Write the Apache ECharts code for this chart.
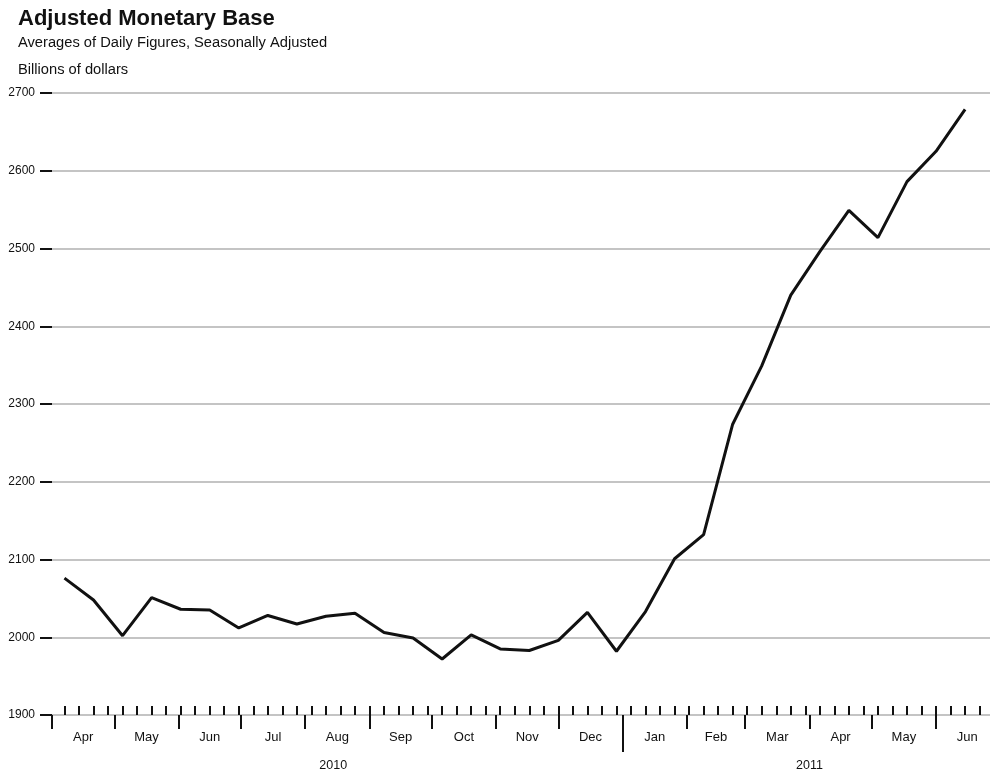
<!DOCTYPE html>
<html>
<head>
<meta charset="utf-8">
<script src="https://cdn.jsdelivr.net/npm/echarts@6/dist/echarts.min.js"></script>
<style>
html,body{margin:0;padding:0;background:#fff;}
#chart{width:990px;height:772px;}
</style>
</head>
<body>
<div id="chart"></div>
<script>
// ---- data ----
const dates = [
  '2010-04-07','2010-04-21','2010-05-05','2010-05-19','2010-06-02','2010-06-16','2010-06-30',
  '2010-07-14','2010-07-28','2010-08-11','2010-08-25','2010-09-08','2010-09-22','2010-10-06',
  '2010-10-20','2010-11-03','2010-11-17','2010-12-01','2010-12-15','2010-12-29','2011-01-12',
  '2011-01-26','2011-02-09','2011-02-23','2011-03-09','2011-03-23','2011-04-06','2011-04-20',
  '2011-05-04','2011-05-18','2011-06-01','2011-06-15'
];
const values = [
  2076, 2048, 2002, 2051, 2036, 2035, 2012,
  2028, 2017, 2027, 2031, 2006, 1999, 1972,
  2003, 1985, 1983, 1996, 2032, 1982, 2033,
  2101, 2132, 2274, 2349, 2440, 2496, 2549,
  2514, 2586, 2625, 2679
];
const monthStarts = [
  '2010-04-01','2010-05-01','2010-06-01','2010-07-01','2010-08-01','2010-09-01','2010-10-01',
  '2010-11-01','2010-12-01','2011-01-01','2011-02-01','2011-03-01','2011-04-01','2011-05-01',
  '2011-06-01','2011-07-01'
];
const monthLabels = ['Apr','May','Jun','Jul','Aug','Sep','Oct','Nov','Dec','Jan','Feb','Mar','Apr','May','Jun'];
const yearLabels = ['2010','2011'];
const yearStarts = ['2010-04-01','2011-01-01'];
const yMin = 1900, yMax = 2700, yStep = 100;

// ---- scale helpers ----
const origin = Date.UTC(2010, 3, 1);
function day(s) {
  const p = s.split('-').map(Number);
  return (Date.UTC(p[0], p[1] - 1, p[2]) - origin) / 86400000;
}
const xMax = 452;
const firstWed = day('2010-04-07');
const weekTicks = [];
for (let d = firstWed; d <= xMax; d += 7) weekTicks.push(d);
const monthTickVals = monthStarts.map(day).filter(d => d <= xMax);
const monthMid = monthLabels.map((m, i) => (day(monthStarts[i]) + day(monthStarts[i + 1])) / 2);
const monthLabelMap = {};
monthMid.forEach((v, i) => { monthLabelMap[v] = monthLabels[i]; });
const yearBoundary = [day('2011-01-01')];
const yearMid = [
  (day(yearStarts[0]) + day(yearStarts[1])) / 2 - 2,
  (day(yearStarts[1]) + xMax) / 2 + 1.5
];
const yearLabelMap = {};
yearMid.forEach((v, i) => { yearLabelMap[v] = yearLabels[i]; });

const FONT = "'Liberation Sans', Arial, Helvetica, sans-serif";
const gridCfg = { left: 52, right: 0, top: 93, bottom: 57, outerBoundsMode: 'none', containLabel: false };

const chart = echarts.init(document.getElementById('chart'));
chart.setOption({
  animation: false,
  backgroundColor: '#fff',
  title: [
    { text: 'Adjusted Monetary Base', left: 18, top: 8, padding: 0,
      textStyle: { fontFamily: FONT, fontSize: 22, fontWeight: 'bold', color: '#111' } },
    { text: 'Averages of Daily Figures, Seasonally Adjusted', left: 18, top: 35, padding: 0,
      textStyle: { fontFamily: FONT, fontSize: 14.7, fontWeight: 'normal', color: '#111' } },
    { text: 'Billions of dollars', left: 18, top: 62, padding: 0,
      textStyle: { fontFamily: FONT, fontSize: 14.7, fontWeight: 'normal', color: '#111' } }
  ],
  grid: gridCfg,
  xAxis: [
    { type: 'value', min: 0, max: xMax, position: 'bottom', offset: 0,
      axisLine: { show: true, onZero: false, lineStyle: { color: '#c4c4c4', width: 2 } },
      axisTick: { show: true, inside: true, length: 9, customValues: weekTicks,
                  lineStyle: { color: '#111', width: 2 } },
      axisLabel: { show: true, customValues: monthMid, margin: 16,
                   fontFamily: FONT, fontSize: 13, color: '#111',
                   formatter: v => monthLabelMap[v] || '' },
      splitLine: { show: false } },
    { type: 'value', min: 0, max: xMax, position: 'bottom', offset: 0,
      axisLine: { show: false, onZero: false },
      axisTick: { show: true, inside: false, length: 14, customValues: monthTickVals,
                  lineStyle: { color: '#111', width: 2 } },
      axisLabel: { show: false },
      splitLine: { show: false } },
    { type: 'value', min: 0, max: xMax, position: 'bottom', offset: 0,
      axisLine: { show: false, onZero: false },
      axisTick: { show: true, inside: false, length: 37, customValues: yearBoundary,
                  lineStyle: { color: '#111', width: 2 } },
      axisLabel: { show: true, customValues: yearMid, margin: 44,
                   fontFamily: FONT, fontSize: 12.5, color: '#111',
                   formatter: v => yearLabelMap[v] || '' },
      splitLine: { show: false } }
  ],
  yAxis: [
    { type: 'value', min: yMin, max: yMax, interval: yStep,
      axisLine: { show: false },
      axisTick: { show: true, inside: false, length: 12, lineStyle: { color: '#111', width: 2 } },
      axisLabel: { margin: 17, fontFamily: FONT, fontSize: 12, color: '#111',
                   formatter: v => String(v) },
      splitLine: { show: true, lineStyle: { color: '#c4c4c4', width: 2 } } }
  ],
  series: [
    { type: 'line', xAxisIndex: 0, yAxisIndex: 0,
      data: dates.map((d, i) => [day(d), values[i]]),
      showSymbol: false, symbol: 'none',
      lineStyle: { color: '#111', width: 3 }, z: 5 }
  ]
});
</script>
</body>
</html>
